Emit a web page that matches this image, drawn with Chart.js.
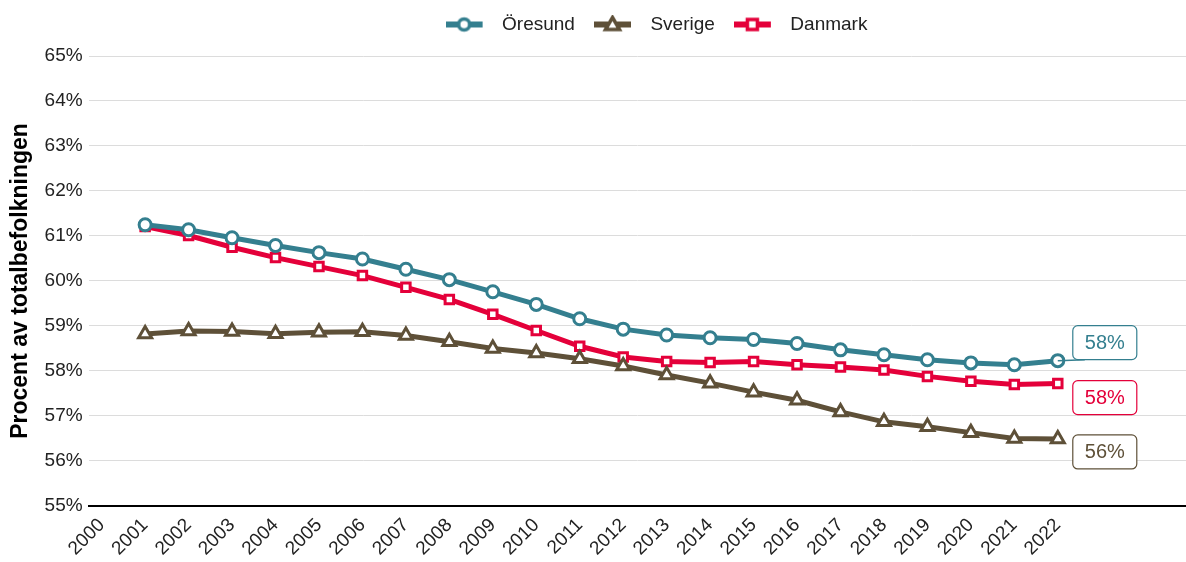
<!DOCTYPE html>
<html lang="sv">
<head>
    <meta charset="UTF-8">
    <title>Procent av totalbefolkningen</title>
    <script src="https://cdn.jsdelivr.net/npm/chart.js"></script>
    <style>
        body {
            margin: 0;
            padding: 0;
            background: #ffffff;
        }
        .wrap {
            width: 1186px;
            height: 562px;
        }
    </style>
</head>
<body>
    <div class="wrap">
        <canvas id="chart"></canvas>
    </div>

    <script>
        // tick labels on the x axis
        const years = [2000, 2001, 2002, 2003, 2004, 2005, 2006, 2007, 2008, 2009, 2010, 2011,
                       2012, 2013, 2014, 2015, 2016, 2017, 2018, 2019, 2020, 2021, 2022];
        // years that have values
        const dataYears = years.slice(1);

        const oresund = [61.25, 61.14, 60.96, 60.79, 60.63, 60.49, 60.26, 60.03, 59.76, 59.48, 59.16,
                         58.93, 58.80, 58.74, 58.70, 58.61, 58.47, 58.36, 58.25, 58.18, 58.14, 58.23];
        const sverige = [58.82, 58.89, 58.88, 58.83, 58.86, 58.87, 58.79, 58.65, 58.50, 58.40, 58.27,
                         58.11, 57.91, 57.73, 57.53, 57.35, 57.09, 56.87, 56.76, 56.63, 56.50, 56.49];
        const danmark = [61.21, 61.01, 60.75, 60.52, 60.32, 60.12, 59.86, 59.59, 59.26, 58.90, 58.55,
                         58.31, 58.21, 58.19, 58.21, 58.14, 58.09, 58.02, 57.88, 57.77, 57.70, 57.72];

        const teal = '#347f8f';
        const brown = '#5e5038';
        const red = '#e4003a';
        const font = "'Liberation Sans', Arial, sans-serif";

        function pts(values) {
            return values.map((v, i) => ({ x: dataYears[i], y: v }));
        }

        // legend icon: short line with the marker in the middle
        function legendIcon(color, style) {
            const c = document.createElement('canvas');
            c.width = 47;
            c.height = 20;
            const g = c.getContext('2d');
            g.strokeStyle = color;
            g.lineWidth = 6;
            g.beginPath();
            g.moveTo(0, 10);
            g.lineTo(37, 10);
            g.stroke();
            g.fillStyle = '#fff';
            g.lineWidth = 3.5;
            g.beginPath();
            if (style === 'circle') {
                g.arc(18.5, 10, 5.5, 0, Math.PI * 2);
            } else if (style === 'rect') {
                g.rect(13.5, 5, 10, 10);
            } else {
                g.moveTo(18.5, 3);
                g.lineTo(25.5, 15);
                g.lineTo(11.5, 15);
                g.closePath();
            }
            g.fill();
            g.stroke();
            return c;
        }

        // extra room under the legend, and legend shifted right like the original
        const legendTweak = {
            id: 'legendTweak',
            beforeInit(chart) {
                const fit = chart.legend.fit;
                chart.legend.fit = function () {
                    fit.bind(chart.legend)();
                    this.height += 12;
                };
            },
            afterLayout(chart) {
                chart.legend.left += 62;
                chart.legend.right += 62;
            }
        };

        // boxed value labels at the end of each line
        const endLabels = {
            id: 'endLabels',
            afterDatasetsDraw(chart, args, opts) {
                const ctx = chart.ctx;
                chart.data.datasets.forEach((ds, i) => {
                    const meta = chart.getDatasetMeta(i);
                    const last = meta.data[meta.data.length - 1];
                    const val = ds.data[ds.data.length - 1].y;
                    const bx = last.x + 15;
                    const by = last.y + opts.dy[i] - 17;
                    const bw = 64, bh = 34;
                    ctx.save();
                    if (opts.connector[i]) {
                        ctx.strokeStyle = ds.borderColor;
                        ctx.lineWidth = 1.5;
                        ctx.beginPath();
                        ctx.moveTo(last.x, last.y);
                        ctx.lineTo(bx + 12, last.y - 1);
                        ctx.stroke();
                    }
                    ctx.fillStyle = '#fff';
                    ctx.strokeStyle = ds.borderColor;
                    ctx.lineWidth = 1.2;
                    ctx.beginPath();
                    ctx.roundRect(bx, by, bw, bh, 5);
                    ctx.fill();
                    ctx.stroke();
                    ctx.fillStyle = ds.borderColor;
                    ctx.font = '20px ' + font;
                    ctx.textAlign = 'center';
                    ctx.textBaseline = 'middle';
                    ctx.fillText(Math.round(val) + '%', bx + bw / 2, by + bh / 2 + 1);
                    ctx.restore();
                });
            }
        };

        new Chart(document.getElementById('chart'), {
            type: 'line',
            data: {
                datasets: [
                    {
                        label: 'Öresund',
                        data: pts(oresund),
                        borderColor: teal,
                        backgroundColor: '#fff',
                        borderWidth: 5,
                        pointStyle: 'circle',
                        pointRadius: 6,
                        pointBorderWidth: 3,
                        icon: legendIcon(teal, 'circle')
                    },
                    {
                        label: 'Sverige',
                        data: pts(sverige),
                        borderColor: brown,
                        backgroundColor: '#fff',
                        borderWidth: 5,
                        pointStyle: 'triangle',
                        pointRadius: 7.5,
                        pointBorderWidth: 3,
                        icon: legendIcon(brown, 'triangle')
                    },
                    {
                        label: 'Danmark',
                        data: pts(danmark),
                        borderColor: red,
                        backgroundColor: '#fff',
                        borderWidth: 5,
                        pointStyle: 'rect',
                        pointRadius: 6,
                        pointBorderWidth: 3,
                        icon: legendIcon(red, 'rect')
                    }
                ]
            },
            options: {
                responsive: true,
                maintainAspectRatio: false,
                animation: false,
                layout: {
                    autoPadding: false,
                    padding: { top: -4, right: 0, bottom: 2, left: 3 }
                },
                plugins: {
                    legend: {
                        display: true,
                        position: 'top',
                        labels: {
                            usePointStyle: true,
                            pointStyleWidth: 47,
                            padding: 19,
                            color: '#222',
                            font: { family: font, size: 19 },
                            generateLabels(chart) {
                                return chart.data.datasets.map((ds, i) => ({
                                    text: ds.label,
                                    pointStyle: ds.icon,
                                    fontColor: '#222',
                                    strokeStyle: ds.borderColor,
                                    fillStyle: '#fff',
                                    lineWidth: 0,
                                    datasetIndex: i
                                }));
                            }
                        }
                    },
                    tooltip: { enabled: false },
                    endLabels: {
                        dy: [-18, 13, 14],
                        connector: [true, false, false]
                    }
                },
                scales: {
                    x: {
                        type: 'linear',
                        min: 1999.7,
                        max: 2024.95,
                        afterBuildTicks(axis) {
                            axis.ticks = years.map(v => ({ value: v }));
                        },
                        ticks: {
                            autoSkip: false,
                            maxRotation: 45,
                            minRotation: 45,
                            color: '#222',
                            font: { family: font, size: 19 },
                            padding: 0,
                            callback: v => String(v)
                        },
                        grid: { display: false },
                        border: { display: true, color: '#000', width: 2 }
                    },
                    y: {
                        min: 55,
                        max: 65,
                        ticks: {
                            stepSize: 1,
                            color: '#222',
                            font: { family: font, size: 19 },
                            padding: 6,
                            callback: v => v + '%'
                        },
                        grid: { color: '#dcdcdc', lineWidth: 1, drawTicks: false },
                        border: { display: false },
                        title: {
                            display: true,
                            text: 'Procent av totalbefolkningen',
                            color: '#000',
                            font: { family: font, size: 23, weight: 'bold' },
                            padding: 4
                        }
                    }
                }
            },
            plugins: [legendTweak, endLabels]
        });
    </script>
</body>
</html>
